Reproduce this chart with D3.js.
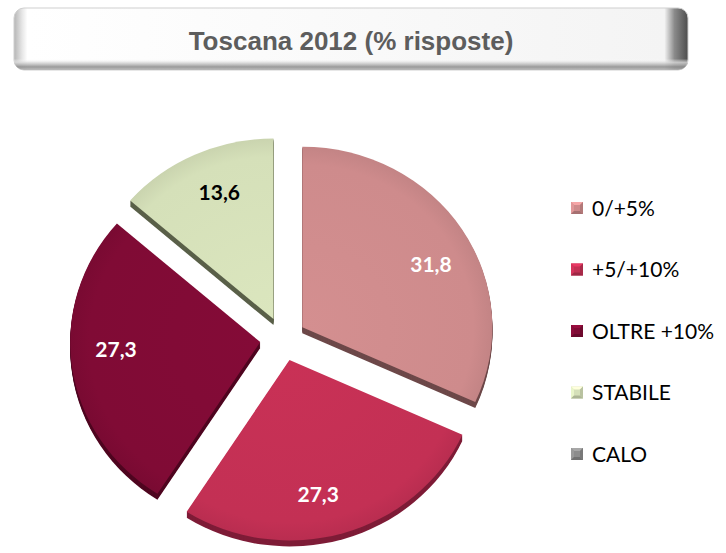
<!DOCTYPE html>
<html>
<head>
<meta charset="utf-8">
<script src="https://cdn.jsdelivr.net/npm/d3@7"></script>
<style>
  html, body { margin: 0; padding: 0; background: #ffffff; }
  svg { display: block; }
</style>
</head>
<body>
<svg id="chart" width="726" height="553"></svg>
<script>
// Risposte per classe di variazione, Toscana 2012
const title = "Toscana 2012 (% risposte)";
const categories = ["0/+5%", "+5/+10%", "OLTRE +10%", "STABILE", "CALO"];
const values = [31.8, 27.3, 27.3, 13.6, 0];
const faceColors = ["#ce8b8c", "#c33054", "#800b35", "#d5e0b9", "#8c8c8c"];
const sideColors = ["#6d4849", "#7e1c37", "#4f0620", "#5a6049", "#555555"];
const labelColors = ["#ffffff", "#ffffff", "#ffffff", "#000000", "#000000"];

const svg = d3.select("#chart");
const defs = svg.append("defs");

// ---- title box (bevelled button look) ----
const gH = defs.append("linearGradient").attr("id", "boxH").attr("x1", 0).attr("x2", 1).attr("y1", 0).attr("y2", 0);
[[0, "#b5b5b5"], [0.012, "#e6e6e6"], [0.02, "#ffffff"], [0.965, "#f4f4f4"], [0.98, "#8a8a8a"], [1, "#4d4d4d"]]
  .forEach(([o, c]) => gH.append("stop").attr("offset", o).attr("stop-color", c));
const gV = defs.append("linearGradient").attr("id", "boxV").attr("x1", 0).attr("x2", 0).attr("y1", 0).attr("y2", 1);
[[0, "#ffffff", 0], [0.82, "#ffffff", 0], [0.88, "#d8d8d8", 0.8], [0.95, "#8f8f8f", 0.9], [1, "#b0b0b0", 0.8]]
  .forEach(([o, c, a]) => gV.append("stop").attr("offset", o).attr("stop-color", c).attr("stop-opacity", a));

const box = { x: 14, y: 8, w: 674, h: 62 };
svg.append("rect").attr("x", box.x).attr("y", box.y).attr("width", box.w).attr("height", box.h)
  .attr("rx", 10).attr("fill", "url(#boxH)").attr("stroke", "#cfcfcf").attr("stroke-width", 1);
svg.append("rect").attr("x", box.x).attr("y", box.y).attr("width", box.w).attr("height", box.h)
  .attr("rx", 10).attr("fill", "url(#boxV)");

svg.append("text")
  .attr("x", box.x + box.w / 2).attr("y", 50)
  .attr("text-anchor", "middle")
  .style("font-family", "'Liberation Sans', Arial, sans-serif")
  .style("font-weight", "bold").style("font-size", "26px")
  .attr("fill", "#5d5d5d")
  .text(title);

// ---- exploded pie with a little thickness ----
const cx = 283, cy = 339, radius = 190, tilt = 0.95, explode = 23, depth = 6;
const labelAlong = 0.55;        // label sits a little past the middle of its slice
const labelRadius = radius * 0.76;

const pie = d3.pie().sort(null).value(d => d).startAngle(0).endAngle(2 * Math.PI);
const arcs = pie(values);
const arc = d3.arc().innerRadius(0).outerRadius(radius);

const pieG = svg.append("g");

arcs.forEach((a, i) => {
  if (a.value <= 0) return;
  const mid = (a.startAngle + a.endAngle) / 2;
  const ox = cx + explode * Math.sin(mid);
  const oy = cy - explode * Math.cos(mid) * tilt;
  const g = pieG.append("g");

  // extruded side
  for (let k = depth; k >= 1; k--) {
    g.append("path")
      .attr("transform", `translate(${ox},${oy + k}) scale(1,${tilt})`)
      .attr("d", arc(a))
      .attr("fill", sideColors[i]);
  }

  // shading for the top face
  const gid = "face" + i;
  const rg = defs.append("radialGradient").attr("id", gid)
    .attr("gradientUnits", "userSpaceOnUse")
    .attr("cx", 0).attr("cy", 0).attr("r", radius);
  const base = d3.color(faceColors[i]);
  rg.append("stop").attr("offset", 0).attr("stop-color", base.brighter(0.08));
  rg.append("stop").attr("offset", 0.9).attr("stop-color", base);
  rg.append("stop").attr("offset", 1).attr("stop-color", base.darker(0.15));

  g.append("path")
    .attr("transform", `translate(${ox},${oy}) scale(1,${tilt})`)
    .attr("d", arc(a))
    .attr("fill", `url(#${gid})`);

  const la = a.startAngle + (a.endAngle - a.startAngle) * labelAlong;
  const lx = labelRadius * Math.sin(la);
  const ly = -labelRadius * Math.cos(la) * tilt;
  g.append("text")
    .attr("x", ox + lx).attr("y", oy + ly)
    .attr("text-anchor", "middle").attr("dy", "0.36em")
    .style("font-family", "Lato, 'Open Sans', sans-serif")
    .style("font-weight", "bold").style("font-size", "21px")
    .attr("fill", labelColors[i])
    .text(a.value.toFixed(1).replace(".", ","));
});

// ---- legend ----
const legend = svg.append("g");
const legendY = d3.scalePoint().domain(categories).range([208, 454]);
const m = 12;
categories.forEach((c, i) => {
  const y = legendY(c);
  const x0 = 571, y0 = y - m / 2;
  const col = d3.color(faceColors[i]);
  const row = legend.append("g");
  row.append("rect").attr("x", x0).attr("y", y0).attr("width", m).attr("height", m).attr("fill", col);
  // bevel triangles
  const cxm = x0 + m / 2, cym = y0 + m / 2;
  const tri = [
    [[x0, y0], [x0 + m, y0], [cxm, cym], col.brighter(0.5)],
    [[x0, y0], [x0, y0 + m], [cxm, cym], col.brighter(0.25)],
    [[x0 + m, y0], [x0 + m, y0 + m], [cxm, cym], col.darker(0.4)],
    [[x0, y0 + m], [x0 + m, y0 + m], [cxm, cym], col.darker(0.6)]
  ];
  tri.forEach(t => {
    row.append("path").attr("d", d3.line()([t[0], t[1], t[2]]) + "Z").attr("fill", t[3]);
  });
  row.append("rect").attr("x", x0 + 3).attr("y", y0 + 3).attr("width", m - 6).attr("height", m - 6).attr("fill", col);
  row.append("text")
    .attr("x", 592).attr("y", y).attr("dy", "0.36em")
    .style("font-family", "Lato, 'Open Sans', sans-serif")
    .style("font-size", "21px")
    .attr("fill", "#000000")
    .text(c);
});
</script>
</body>
</html>
